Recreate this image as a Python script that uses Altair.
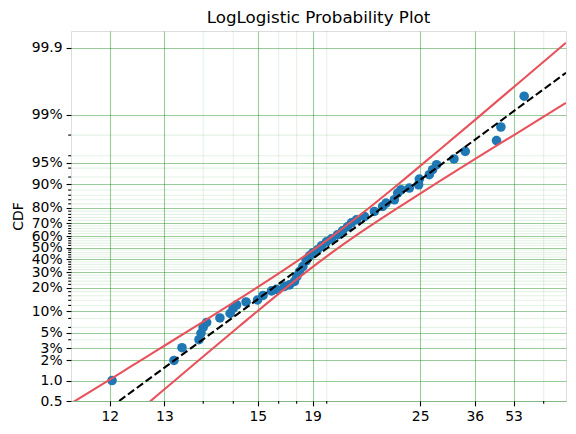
import math
import altair as alt
import pandas as pd

# ---------------- data (axis units on x, CDF fraction on y) ----------------
fail_t = [20.34, 32.20, 34.17, 38.76, 39.33, 39.98, 41.03, 45.27, 48.83, 49.93,
          51.24, 54.97, 59.86, 62.35, 66.40, 68.91, 73.11, 75.87, 78.73, 80.09,
          81.71, 83.73, 85.86, 87.99, 90.16, 93.36, 96.17, 99.80, 103.56, 108.27,
          112.36, 116.60, 120.10, 124.63, 132.24, 142.41, 151.43, 155.30, 165.15, 169.25,
          173.55, 184.56, 197.72, 198.75, 214.03, 219.32, 225.91, 257.00, 279.42, 352.33,
          364.01, 432.62]
fail_F = [0.0101, 0.0200, 0.0307, 0.0401, 0.0495, 0.0599, 0.0704, 0.0813, 0.0937, 0.1095,
          0.1219, 0.1333, 0.1416, 0.1615, 0.1838, 0.1917, 0.2083, 0.2171, 0.2383, 0.2697,
          0.3051, 0.3430, 0.3886, 0.4305, 0.4562, 0.4820, 0.5165, 0.5511, 0.5764, 0.6099,
          0.6422, 0.6735, 0.7031, 0.7243, 0.7465, 0.7778, 0.8063, 0.8241, 0.8400, 0.8687,
          0.8812, 0.8872, 0.8981, 0.9148, 0.9258, 0.9368, 0.9463, 0.9555, 0.9654, 0.9759,
          0.9848, 0.9947]

fit_t = [21.43, 590.0]
fit_F = [0.005, 0.99763]

upper_t = [14.95, 17.25, 20.0, 23.19, 28.96, 38.95, 52.39, 70.45, 87.99, 102.04,
           127.44, 171.49, 230.48, 309.94, 416.84, 589.4]
upper_F = [0.00456, 0.00685, 0.01044, 0.01590, 0.02972, 0.0673, 0.1468, 0.2954, 0.4581,
           0.5808, 0.7527, 0.9027, 0.9670, 0.98943, 0.99670, 0.99916]

lower_t = [23.19, 28.96, 38.95, 52.39, 70.45, 87.99, 102.04, 127.44, 171.49, 230.48,
           309.94, 416.84, 589.4]
lower_F = [0.00272, 0.00652, 0.02067, 0.0629, 0.1728, 0.3215, 0.4432, 0.6234, 0.8047,
           0.9083, 0.9591, 0.9821, 0.99334]

title_text = ["LogLogistic Probability Plot"]

# ---------------- axes ----------------
x_major = [20, 30, 60, 90, 200, 300, 400]
x_major_labels = ["12", "13", "15", "19", "25", "36", "53"]
x_minor = [40, 50, 70, 80, 100, 500]
x_domain = [15, 590]

y_major = [0.005, 0.01, 0.02, 0.03, 0.05, 0.1, 0.2, 0.3, 0.4, 0.5, 0.6, 0.7, 0.8, 0.9,
           0.95, 0.99, 0.999]
y_major_labels = ["0.5", "1.0", "2%", "3%", "5%", "10%", "20%", "30%", "40%", "50%",
                  "60%", "70%", "80%", "90%", "95%", "99%", "99.9"]
y_minor = [0.04, 0.06, 0.08, 0.12, 0.14, 0.16, 0.18, 0.22, 0.24, 0.26, 0.28, 0.32, 0.34,
           0.36, 0.38, 0.42, 0.44, 0.46, 0.48, 0.52, 0.54, 0.56, 0.58, 0.62, 0.64, 0.66,
           0.68, 0.72, 0.74, 0.76, 0.78, 0.82, 0.84, 0.86, 0.88, 0.92, 0.94, 0.96, 0.98]
y_domain = [0.005, 0.99944]

W, H = 495, 370
FONT = "DejaVu Sans"
GRID = "#008000"
RED = "#e8525c"
BLUE = "#1f77b4"


def logit(p):
    return math.log(p / (1 - p))


def label_expr(vals, labels):
    parts = [f"abs(datum.value - {v!r}) < 1e-6 ? '{l}'" for v, l in zip(vals, labels)]
    return " : ".join(parts) + " : ''"


y_major_logit = [logit(v) for v in y_major]

x_scale = alt.Scale(type="log", domain=x_domain, nice=False)
y_scale = alt.Scale(domain=[logit(y_domain[0]), logit(y_domain[1])], nice=False, zero=False)

common_axis = dict(
    grid=True, gridColor=GRID, gridOpacity=0.4, gridWidth=1.1,
    tickSize=4.9, tickWidth=1.1, tickColor="black", domain=False,
    labelFont=FONT, labelFontSize=13.9, labelColor="black", labelPadding=4,
    labelOverlap=False, labelFlush=False,
)
x_axis = alt.Axis(values=x_major, labelExpr=label_expr(x_major, x_major_labels),
                  title=None, **common_axis)
y_axis = alt.Axis(values=y_major_logit, labelExpr=label_expr(y_major_logit, y_major_labels),
                  title="CDF", titleFont=FONT, titleFontSize=13.9, titleFontWeight="normal",
                  titleColor="black", titlePadding=6, **common_axis)


def X(field="t"):
    return alt.X(f"{field}:Q", scale=x_scale, axis=x_axis)


def Y(field="y"):
    return alt.Y(f"{field}:Q", scale=y_scale, axis=y_axis)


logit_calc = "log(datum.F / (1 - datum.F))"

pts = pd.DataFrame({"t": fail_t, "F": fail_F})
fit = pd.DataFrame({"t": fit_t, "F": fit_F})
up = pd.DataFrame({"t": upper_t, "F": upper_F})
lo = pd.DataFrame({"t": lower_t, "F": lower_F})
xmin_df = pd.DataFrame({"t": x_minor})
ymin_df = pd.DataFrame({"F": y_minor})
title_df = pd.DataFrame({"label": title_text})

x_minor_grid = alt.Chart(xmin_df).mark_rule(color=GRID, opacity=0.1, strokeWidth=1.1).encode(
    x=X(), y=alt.value(0), y2=alt.value(H))
y_minor_grid = alt.Chart(ymin_df).transform_calculate(y=logit_calc).mark_rule(
    color=GRID, opacity=0.1, strokeWidth=1.1).encode(
    y=Y(), x=alt.value(0), x2=alt.value(W))
x_minor_ticks = alt.Chart(xmin_df).mark_rule(color="black", strokeWidth=1.1).encode(
    x=X(), y=alt.value(H), y2=alt.value(H + 2.8))
y_minor_ticks = alt.Chart(ymin_df).transform_calculate(y=logit_calc).mark_rule(
    color="black", strokeWidth=1.1).encode(
    y=Y(), x=alt.value(-2.8), x2=alt.value(0))

points = alt.Chart(pts).transform_calculate(y=logit_calc).mark_circle(
    size=92, color=BLUE, opacity=1).encode(x=X(), y=Y())

upper_line = alt.Chart(up).transform_calculate(y=logit_calc).mark_line(
    color=RED, strokeWidth=2.1, clip=True, interpolate="monotone").encode(
    x=X(), y=Y(), order="t:Q")
lower_line = alt.Chart(lo).transform_calculate(y=logit_calc).mark_line(
    color=RED, strokeWidth=2.1, clip=True, interpolate="monotone").encode(
    x=X(), y=Y(), order="t:Q")
fit_line = alt.Chart(fit).transform_calculate(y=logit_calc).mark_line(
    color="black", strokeWidth=2.1, strokeDash=[7.7, 3.3], clip=True).encode(
    x=X(), y=Y(), order="t:Q")

title = alt.Chart(title_df).mark_text(
    font=FONT, fontSize=16.7, color="black", align="center", baseline="alphabetic").encode(
    text="label:N", x=alt.value(W / 2), y=alt.value(-8.3))

chart = alt.layer(
    x_minor_grid, y_minor_grid, points, upper_line, lower_line, fit_line,
    x_minor_ticks, y_minor_ticks, title,
).properties(
    width=W, height=H,
    autosize=alt.AutoSizeParams(type="none"),
    padding={"left": 71, "top": 31, "right": 10, "bottom": 33},
).configure_view(stroke="black", strokeWidth=1.1).configure(background="white")

chart.save("out.html", embed_options={"renderer": "svg", "actions": False})
